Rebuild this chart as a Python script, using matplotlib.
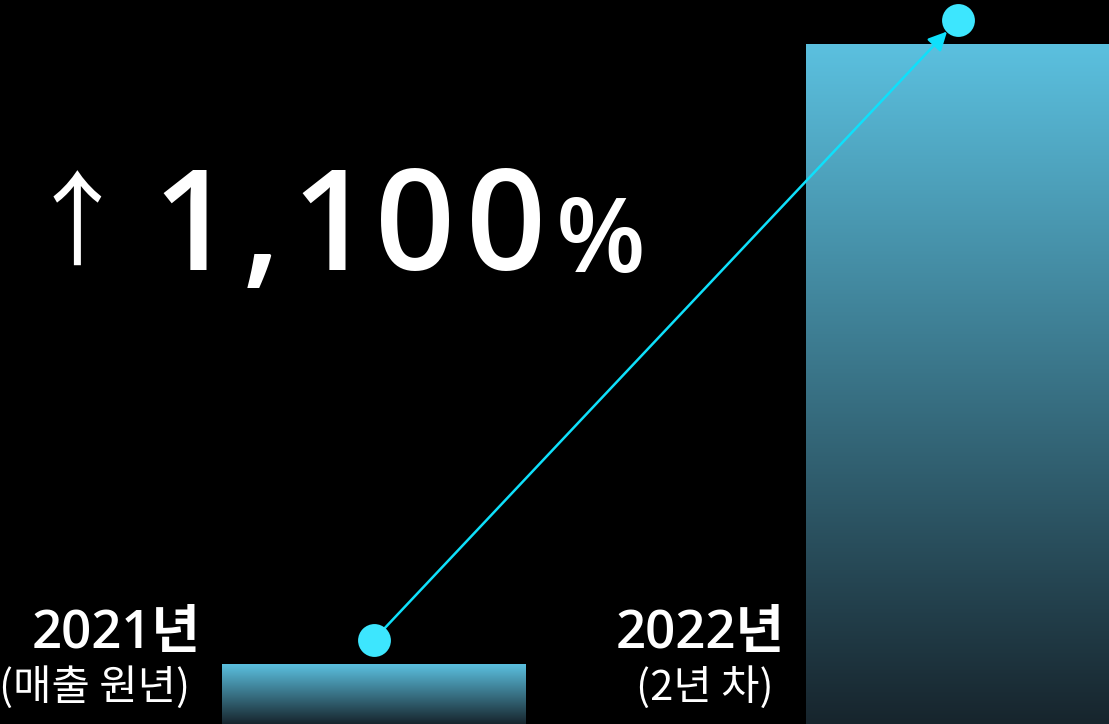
import matplotlib.pyplot as plt
import numpy as np
from matplotlib.colors import LinearSegmentedColormap

plt.rcParams['font.family'] = ['Open Sans', 'Noto Sans CJK KR', 'DejaVu Sans']

# data (relative revenue)
years = ['2021년', '2022년']
subs = ['(매출 원년)', '(2년 차)']
values = [1.0, 11.33]
growth_label = '1,100'

W, H = 1109, 724
bar_w = 0.519
dot_pad = 0.4
grad = LinearSegmentedColormap.from_list('bar', ['#17252d', '#5bc0df'])


def px(x, y):
    # pixel position -> axes fraction
    return x / W, 1 - y / H


fig = plt.figure(figsize=(W / 100, H / 100), dpi=100, facecolor='black')
ax = fig.add_axes([0, 0, 1, 1])
ax.set_facecolor('black')
ax.set_xlim(-0.6396, 1.2594)
ax.set_ylim(0, 12.07)
ax.axis('off')

xs = np.arange(len(values))
g = np.linspace(0, 1, 256).reshape(-1, 1)
for x, v in zip(xs, values):
    ax.imshow(g, cmap=grad, origin='lower', aspect='auto',
              extent=[x - bar_w / 2, x + bar_w / 2, 0, v], zorder=1)

# connecting arrow + dots
dots_y = [v + dot_pad for v in values]
ax.annotate('', xy=(xs[1], dots_y[1]), xytext=(xs[0], dots_y[0]),
            arrowprops=dict(arrowstyle='-|>', color='#0fe0fb', lw=1.8,
                            mutation_scale=28, shrinkA=0, shrinkB=11),
            zorder=3)
ax.scatter(xs, dots_y, s=560, color='#3de6fe', zorder=4, linewidths=0)

# labels beside bars
for x, yr, sb in zip(xs, years, subs):
    left = x - bar_w / 2
    ax.text(left - 0.036, 1.27, yr, color='white', fontsize=38,
            fontweight='semibold', ha='right', va='baseline')
    ax.text(left - 0.055, 0.40, sb, color='white', fontsize=30,
            fontweight='light', ha='right', va='baseline',
            family=['Noto Sans CJK KR', 'DejaVu Sans'])

# headline, glyph by glyph to get the wide tracking
ax.text(*px(77, 258), '↑', transform=ax.transAxes, color='white',
        fontsize=74, fontweight='light', va='baseline', ha='center',
        family=['Noto Sans CJK KR', 'DejaVu Sans'])
centers = [192, 261, 331, 415, 506]
for ch, cx in zip(growth_label, centers):
    ax.text(*px(cx, 270), ch, transform=ax.transAxes, color='white',
            fontsize=101, fontweight='semibold', va='baseline', ha='center')
ax.text(*px(601, 272), '%', transform=ax.transAxes, color='white',
        fontsize=75, fontweight='semibold', va='baseline', ha='center')

plt.savefig('out.png', dpi=100, facecolor='black')
